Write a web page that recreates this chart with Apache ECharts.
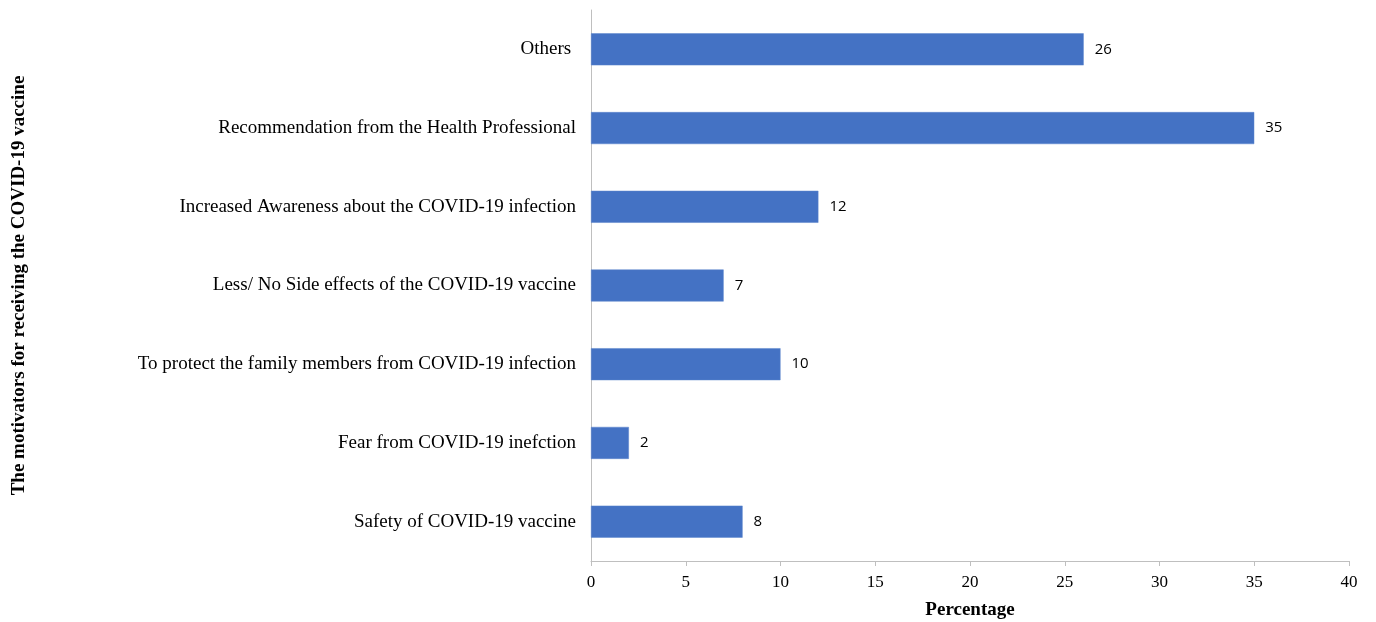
<!DOCTYPE html>
<html>
<head>
<meta charset="utf-8">
<script src="https://cdn.jsdelivr.net/npm/echarts@6/dist/echarts.min.js"></script>
<style>
  html, body { margin: 0; padding: 0; background: #fff; }
  #chart { width: 1376px; height: 622px; }
</style>
</head>
<body>
<div id="chart"></div>
<script>
// Motivators listed top to bottom
const categories = [
  'Others ',
  'Recommendation from the Health Professional',
  'Increased Awareness about the COVID-19 infection',
  'Less/ No Side effects of the COVID-19 vaccine',
  'To protect the family members from COVID-19 infection',
  'Fear from COVID-19 inefction',
  'Safety of COVID-19 vaccine'
];
// Percentage of respondents per motivator
const percentages = [26, 35, 12, 7, 10, 2, 8];
const xTicks = [0, 5, 10, 15, 20, 25, 30, 35, 40];

const serif = '"Liberation Serif", "Times New Roman", serif';
const chart = echarts.init(document.getElementById('chart'));
chart.setOption({
  animation: false,
  grid: {
    left: 591, right: 27, top: 10, bottom: 61,
    containLabel: false,
    outerBoundsMode: 'none'
  },
  xAxis: {
    type: 'value',
    min: xTicks[0],
    max: xTicks[xTicks.length - 1],
    interval: 5,
    name: 'Percentage',
    nameLocation: 'middle',
    nameGap: 40,
    nameTextStyle: { fontFamily: serif, fontWeight: 'bold', fontSize: 19, color: '#000' },
    axisLine: { show: true, lineStyle: { color: '#bfbfbf', width: 1 } },
    axisTick: { show: true, length: 5, lineStyle: { color: '#bfbfbf' } },
    axisLabel: { fontFamily: serif, fontSize: 17, color: '#000', margin: 13 },
    splitLine: { show: false }
  },
  yAxis: {
    type: 'category',
    data: categories,
    inverse: true,
    name: 'The motivators for receiving the COVID-19 vaccine',
    nameLocation: 'middle',
    nameGap: 562,
    nameRotate: 90,
    nameTextStyle: { fontFamily: serif, fontWeight: 'bold', fontSize: 19, color: '#000' },
    axisLine: { show: true, lineStyle: { color: '#bfbfbf', width: 1 } },
    axisTick: { show: false },
    axisLabel: { fontFamily: serif, fontSize: 19, color: '#000', margin: 15 }
  },
  series: [{
    type: 'bar',
    data: percentages,
    barWidth: 32,
    itemStyle: { color: '#4472c4', borderColor: '#5b84cc', borderWidth: 0.5 },
    label: {
      show: true,
      position: 'right',
      distance: 11,
      fontFamily: '"Open Sans", "Noto Sans", sans-serif',
      fontSize: 15,
      color: '#000'
    }
  }]
});
</script>
</body>
</html>
